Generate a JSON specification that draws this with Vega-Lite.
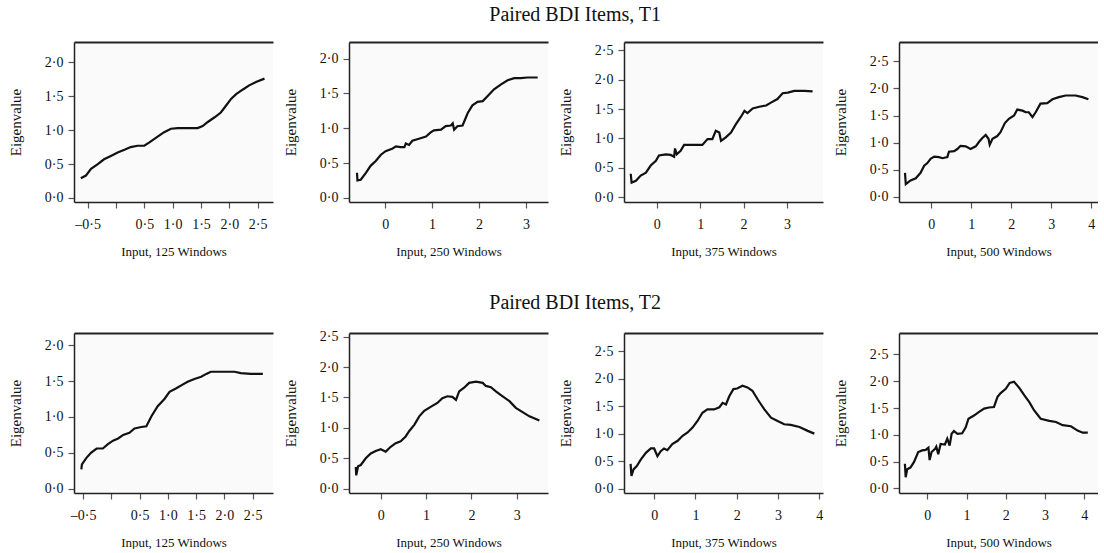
{
  "$schema": "https://vega.github.io/schema/vega-lite/v6.json",
  "background": "white",
  "padding": {"left": 8, "top": 5, "right": 0, "bottom": 0},
  "spacing": 34,
  "config": {
    "font": "Liberation Serif",
    "view": {"stroke": null, "fill": "#fafafa"},
    "axis": {"labelFont": "Liberation Serif", "titleFont": "Liberation Serif", "labelFontSize": 14, "titleFontSize": 13, "titleFontWeight": "normal", "labelColor": "#111", "titleColor": "#111", "domainColor": "#222", "domainWidth": 1.5, "tickColor": "#555", "tickSize": 6, "tickWidth": 1.2, "grid": false, "labelPadding": 5},
    "axisY": {"titlePadding": 21, "titleFontSize": 15},
    "axisX": {"labelPadding": 9, "titlePadding": 14},
    "title": {"font": "Liberation Serif", "fontSize": 20, "fontWeight": "normal", "color": "#111", "anchor": "middle", "dx": 22},
    "line": {"color": "#111", "strokeWidth": 2.2}
  },
  "datasets": {
    "a1": [{"x":-0.62,"y":0.29},{"x":-0.53,"y":0.33},{"x":-0.44,"y":0.43},{"x":-0.32,"y":0.50},{"x":-0.21,"y":0.57},{"x":-0.09,"y":0.62},{"x":0.03,"y":0.67},{"x":0.15,"y":0.71},{"x":0.26,"y":0.75},{"x":0.38,"y":0.77},{"x":0.50,"y":0.77},{"x":0.59,"y":0.82},{"x":0.71,"y":0.89},{"x":0.85,"y":0.97},{"x":0.97,"y":1.02},{"x":1.09,"y":1.03},{"x":1.26,"y":1.03},{"x":1.44,"y":1.03},{"x":1.53,"y":1.06},{"x":1.62,"y":1.12},{"x":1.74,"y":1.19},{"x":1.85,"y":1.26},{"x":1.94,"y":1.36},{"x":2.03,"y":1.46},{"x":2.12,"y":1.53},{"x":2.24,"y":1.60},{"x":2.35,"y":1.66},{"x":2.47,"y":1.71},{"x":2.62,"y":1.76}],
    "a2": [{"x":-0.60,"y":0.36},{"x":-0.59,"y":0.25},{"x":-0.52,"y":0.26},{"x":-0.41,"y":0.36},{"x":-0.31,"y":0.46},{"x":-0.20,"y":0.53},{"x":-0.09,"y":0.62},{"x":0.01,"y":0.67},{"x":0.16,"y":0.71},{"x":0.23,"y":0.74},{"x":0.33,"y":0.73},{"x":0.41,"y":0.73},{"x":0.44,"y":0.78},{"x":0.51,"y":0.76},{"x":0.58,"y":0.82},{"x":0.72,"y":0.85},{"x":0.87,"y":0.88},{"x":0.97,"y":0.94},{"x":1.04,"y":0.97},{"x":1.19,"y":0.98},{"x":1.29,"y":1.03},{"x":1.40,"y":1.04},{"x":1.44,"y":1.07},{"x":1.47,"y":0.98},{"x":1.54,"y":1.03},{"x":1.65,"y":1.04},{"x":1.76,"y":1.22},{"x":1.86,"y":1.33},{"x":1.97,"y":1.38},{"x":2.08,"y":1.39},{"x":2.18,"y":1.46},{"x":2.32,"y":1.56},{"x":2.47,"y":1.63},{"x":2.61,"y":1.69},{"x":2.75,"y":1.72},{"x":2.89,"y":1.72},{"x":3.03,"y":1.73},{"x":3.25,"y":1.73}],
    "a3": [{"x":-0.60,"y":0.40},{"x":-0.58,"y":0.25},{"x":-0.48,"y":0.28},{"x":-0.37,"y":0.37},{"x":-0.25,"y":0.42},{"x":-0.14,"y":0.54},{"x":-0.02,"y":0.62},{"x":0.05,"y":0.71},{"x":0.21,"y":0.73},{"x":0.32,"y":0.72},{"x":0.40,"y":0.69},{"x":0.42,"y":0.83},{"x":0.46,"y":0.73},{"x":0.55,"y":0.79},{"x":0.63,"y":0.89},{"x":0.78,"y":0.89},{"x":0.94,"y":0.89},{"x":1.05,"y":0.89},{"x":1.17,"y":0.99},{"x":1.28,"y":0.99},{"x":1.36,"y":1.13},{"x":1.44,"y":1.10},{"x":1.48,"y":0.96},{"x":1.59,"y":1.02},{"x":1.71,"y":1.10},{"x":1.82,"y":1.24},{"x":1.94,"y":1.37},{"x":2.02,"y":1.47},{"x":2.09,"y":1.43},{"x":2.21,"y":1.51},{"x":2.36,"y":1.54},{"x":2.52,"y":1.56},{"x":2.63,"y":1.61},{"x":2.78,"y":1.67},{"x":2.90,"y":1.77},{"x":3.02,"y":1.78},{"x":3.17,"y":1.81},{"x":3.40,"y":1.81},{"x":3.59,"y":1.80}],
    "a4": [{"x":-0.66,"y":0.44},{"x":-0.64,"y":0.23},{"x":-0.52,"y":0.30},{"x":-0.39,"y":0.34},{"x":-0.27,"y":0.44},{"x":-0.18,"y":0.57},{"x":-0.10,"y":0.62},{"x":-0.02,"y":0.70},{"x":0.07,"y":0.74},{"x":0.19,"y":0.73},{"x":0.28,"y":0.71},{"x":0.40,"y":0.73},{"x":0.44,"y":0.83},{"x":0.57,"y":0.84},{"x":0.65,"y":0.88},{"x":0.73,"y":0.94},{"x":0.86,"y":0.93},{"x":0.98,"y":0.88},{"x":1.11,"y":0.93},{"x":1.19,"y":1.01},{"x":1.27,"y":1.08},{"x":1.36,"y":1.14},{"x":1.43,"y":1.07},{"x":1.46,"y":0.96},{"x":1.53,"y":1.07},{"x":1.65,"y":1.12},{"x":1.73,"y":1.19},{"x":1.84,"y":1.36},{"x":1.94,"y":1.44},{"x":2.07,"y":1.50},{"x":2.15,"y":1.61},{"x":2.28,"y":1.59},{"x":2.36,"y":1.56},{"x":2.44,"y":1.56},{"x":2.53,"y":1.47},{"x":2.61,"y":1.56},{"x":2.73,"y":1.72},{"x":2.90,"y":1.73},{"x":3.03,"y":1.80},{"x":3.19,"y":1.84},{"x":3.36,"y":1.87},{"x":3.61,"y":1.87},{"x":3.78,"y":1.84},{"x":3.93,"y":1.80}],
    "b1": [{"x":-0.53,"y":0.27},{"x":-0.52,"y":0.34},{"x":-0.44,"y":0.43},{"x":-0.36,"y":0.50},{"x":-0.26,"y":0.56},{"x":-0.15,"y":0.56},{"x":-0.06,"y":0.62},{"x":0.03,"y":0.67},{"x":0.12,"y":0.70},{"x":0.21,"y":0.75},{"x":0.32,"y":0.78},{"x":0.41,"y":0.84},{"x":0.53,"y":0.86},{"x":0.62,"y":0.87},{"x":0.71,"y":1.01},{"x":0.82,"y":1.15},{"x":0.94,"y":1.25},{"x":1.03,"y":1.35},{"x":1.15,"y":1.40},{"x":1.26,"y":1.45},{"x":1.35,"y":1.49},{"x":1.47,"y":1.53},{"x":1.59,"y":1.56},{"x":1.68,"y":1.60},{"x":1.76,"y":1.63},{"x":1.88,"y":1.63},{"x":2.06,"y":1.63},{"x":2.18,"y":1.63},{"x":2.29,"y":1.61},{"x":2.47,"y":1.60},{"x":2.68,"y":1.60}],
    "b2": [{"x":-0.55,"y":0.36},{"x":-0.54,"y":0.22},{"x":-0.50,"y":0.37},{"x":-0.44,"y":0.39},{"x":-0.33,"y":0.50},{"x":-0.22,"y":0.58},{"x":-0.11,"y":0.62},{"x":0.00,"y":0.65},{"x":0.11,"y":0.61},{"x":0.22,"y":0.69},{"x":0.33,"y":0.75},{"x":0.44,"y":0.78},{"x":0.55,"y":0.86},{"x":0.63,"y":0.95},{"x":0.74,"y":1.05},{"x":0.85,"y":1.19},{"x":0.96,"y":1.28},{"x":1.11,"y":1.35},{"x":1.25,"y":1.41},{"x":1.36,"y":1.49},{"x":1.47,"y":1.52},{"x":1.58,"y":1.51},{"x":1.66,"y":1.46},{"x":1.73,"y":1.60},{"x":1.84,"y":1.66},{"x":1.95,"y":1.74},{"x":2.10,"y":1.76},{"x":2.25,"y":1.74},{"x":2.32,"y":1.69},{"x":2.43,"y":1.67},{"x":2.54,"y":1.60},{"x":2.69,"y":1.52},{"x":2.84,"y":1.44},{"x":2.98,"y":1.33},{"x":3.13,"y":1.26},{"x":3.28,"y":1.19},{"x":3.50,"y":1.12}],
    "b3": [{"x":-0.57,"y":0.45},{"x":-0.55,"y":0.23},{"x":-0.50,"y":0.35},{"x":-0.42,"y":0.41},{"x":-0.32,"y":0.53},{"x":-0.20,"y":0.65},{"x":-0.08,"y":0.73},{"x":0.00,"y":0.73},{"x":0.08,"y":0.59},{"x":0.16,"y":0.68},{"x":0.24,"y":0.73},{"x":0.32,"y":0.70},{"x":0.44,"y":0.81},{"x":0.57,"y":0.87},{"x":0.69,"y":0.96},{"x":0.81,"y":1.02},{"x":0.93,"y":1.11},{"x":1.05,"y":1.23},{"x":1.17,"y":1.38},{"x":1.29,"y":1.44},{"x":1.45,"y":1.44},{"x":1.58,"y":1.48},{"x":1.66,"y":1.56},{"x":1.74,"y":1.53},{"x":1.82,"y":1.68},{"x":1.92,"y":1.81},{"x":2.01,"y":1.82},{"x":2.14,"y":1.87},{"x":2.26,"y":1.84},{"x":2.38,"y":1.78},{"x":2.51,"y":1.62},{"x":2.67,"y":1.44},{"x":2.83,"y":1.29},{"x":2.99,"y":1.23},{"x":3.15,"y":1.17},{"x":3.31,"y":1.16},{"x":3.52,"y":1.12},{"x":3.72,"y":1.05},{"x":3.88,"y":1.00}],
    "b4": [{"x":-0.57,"y":0.46},{"x":-0.55,"y":0.21},{"x":-0.51,"y":0.36},{"x":-0.43,"y":0.39},{"x":-0.34,"y":0.49},{"x":-0.23,"y":0.68},{"x":-0.13,"y":0.71},{"x":-0.04,"y":0.72},{"x":0.03,"y":0.76},{"x":0.06,"y":0.53},{"x":0.11,"y":0.68},{"x":0.20,"y":0.74},{"x":0.23,"y":0.78},{"x":0.28,"y":0.64},{"x":0.34,"y":0.83},{"x":0.45,"y":0.82},{"x":0.51,"y":0.93},{"x":0.57,"y":0.80},{"x":0.62,"y":1.02},{"x":0.68,"y":1.07},{"x":0.77,"y":1.02},{"x":0.89,"y":1.03},{"x":0.98,"y":1.14},{"x":1.05,"y":1.30},{"x":1.19,"y":1.36},{"x":1.32,"y":1.43},{"x":1.45,"y":1.49},{"x":1.57,"y":1.51},{"x":1.70,"y":1.52},{"x":1.79,"y":1.71},{"x":1.87,"y":1.78},{"x":2.00,"y":1.86},{"x":2.10,"y":1.97},{"x":2.21,"y":1.99},{"x":2.34,"y":1.88},{"x":2.47,"y":1.74},{"x":2.60,"y":1.61},{"x":2.72,"y":1.46},{"x":2.89,"y":1.30},{"x":3.11,"y":1.26},{"x":3.28,"y":1.24},{"x":3.45,"y":1.18},{"x":3.66,"y":1.16},{"x":3.83,"y":1.08},{"x":3.96,"y":1.04},{"x":4.09,"y":1.04}]
  },
  "vconcat": [
    {
      "title": {"text": "Paired BDI Items, T1", "offset": 17},
      "bounds": "flush",
      "spacing": 76,
      "hconcat": [
        {"width": 199, "height": 160, "data": {"name": "a1"},
         "encoding": {
           "x": {"field": "x", "type": "quantitative", "scale": {"domain": [-0.74, 2.77], "nice": false, "zero": false}, "axis": {"title": "Input, 125 Windows", "values": [-0.5, 0, 0.5, 1, 1.5, 2, 2.5], "labelExpr": "datum.value == 0 ? '' : replace(replace(format(datum.value, '.1f'), '.', '·'), '−', '–')"}},
           "y": {"field": "y", "type": "quantitative", "scale": {"domain": [-0.06, 2.3], "nice": false, "zero": false}, "axis": {"title": "Eigenvalue", "values": [0, 0.5, 1, 1.5, 2], "labelExpr": "replace(format(datum.value, '.1f'), '.', '·')"}}
         },
         "layer": [
           {"mark": {"type": "line"}},
           {"mark": {"type": "line", "opacity": 0}, "encoding": {"x": {"field": "x", "type": "quantitative", "axis": {"orient": "top", "labels": false, "ticks": false, "title": null, "domainWidth": 2}}}}
         ],
         "resolve": {"axis": {"x": "independent"}}
        },
        {"width": 199, "height": 160, "data": {"name": "a2"},
         "encoding": {
           "x": {"field": "x", "type": "quantitative", "scale": {"domain": [-0.77, 3.47], "nice": false, "zero": false}, "axis": {"title": "Input, 250 Windows", "values": [0, 1, 2, 3], "format": "d"}},
           "y": {"field": "y", "type": "quantitative", "scale": {"domain": [-0.06, 2.24], "nice": false, "zero": false}, "axis": {"title": "Eigenvalue", "values": [0, 0.5, 1, 1.5, 2], "labelExpr": "replace(format(datum.value, '.1f'), '.', '·')"}}
         },
         "layer": [
           {"mark": {"type": "line"}},
           {"mark": {"type": "line", "opacity": 0}, "encoding": {"x": {"field": "x", "type": "quantitative", "axis": {"orient": "top", "labels": false, "ticks": false, "title": null, "domainWidth": 2}}}}
         ],
         "resolve": {"axis": {"x": "independent"}}
        },
        {"width": 199, "height": 160, "data": {"name": "a3"},
         "encoding": {
           "x": {"field": "x", "type": "quantitative", "scale": {"domain": [-0.755, 3.83], "nice": false, "zero": false}, "axis": {"title": "Input, 375 Windows", "values": [0, 1, 2, 3], "format": "d"}},
           "y": {"field": "y", "type": "quantitative", "scale": {"domain": [-0.08, 2.64], "nice": false, "zero": false}, "axis": {"title": "Eigenvalue", "values": [0, 0.5, 1, 1.5, 2, 2.5], "labelExpr": "replace(format(datum.value, '.1f'), '.', '·')"}}
         },
         "layer": [
           {"mark": {"type": "line"}},
           {"mark": {"type": "line", "opacity": 0}, "encoding": {"x": {"field": "x", "type": "quantitative", "axis": {"orient": "top", "labels": false, "ticks": false, "title": null, "domainWidth": 2}}}}
         ],
         "resolve": {"axis": {"x": "independent"}}
        },
        {"width": 199, "height": 160, "data": {"name": "a4"},
         "encoding": {
           "x": {"field": "x", "type": "quantitative", "scale": {"domain": [-0.81, 4.17], "nice": false, "zero": false}, "axis": {"title": "Input, 500 Windows", "values": [0, 1, 2, 3, 4], "format": "d"}},
           "y": {"field": "y", "type": "quantitative", "scale": {"domain": [-0.1, 2.86], "nice": false, "zero": false}, "axis": {"title": "Eigenvalue", "values": [0, 0.5, 1, 1.5, 2, 2.5], "labelExpr": "replace(format(datum.value, '.1f'), '.', '·')"}}
         },
         "layer": [
           {"mark": {"type": "line"}},
           {"mark": {"type": "line", "opacity": 0}, "encoding": {"x": {"field": "x", "type": "quantitative", "axis": {"orient": "top", "labels": false, "ticks": false, "title": null, "domainWidth": 2}}}}
         ],
         "resolve": {"axis": {"x": "independent"}}
        }
      ]
    },
    {
      "title": {"text": "Paired BDI Items, T2", "offset": 17},
      "bounds": "flush",
      "spacing": 76,
      "hconcat": [
        {"width": 199, "height": 160, "data": {"name": "b1"},
         "encoding": {
           "x": {"field": "x", "type": "quantitative", "scale": {"domain": [-0.66, 2.86], "nice": false, "zero": false}, "axis": {"title": "Input, 125 Windows", "values": [-0.5, 0, 0.5, 1, 1.5, 2, 2.5], "labelExpr": "datum.value == 0 ? '' : replace(replace(format(datum.value, '.1f'), '.', '·'), '−', '–')"}},
           "y": {"field": "y", "type": "quantitative", "scale": {"domain": [-0.06, 2.17], "nice": false, "zero": false}, "axis": {"title": "Eigenvalue", "values": [0, 0.5, 1, 1.5, 2], "labelExpr": "replace(format(datum.value, '.1f'), '.', '·')"}}
         },
         "layer": [
           {"mark": {"type": "line"}},
           {"mark": {"type": "line", "opacity": 0}, "encoding": {"x": {"field": "x", "type": "quantitative", "axis": {"orient": "top", "labels": false, "ticks": false, "title": null, "domainWidth": 2}}}}
         ],
         "resolve": {"axis": {"x": "independent"}}
        },
        {"width": 199, "height": 160, "data": {"name": "b2"},
         "encoding": {
           "x": {"field": "x", "type": "quantitative", "scale": {"domain": [-0.7, 3.69], "nice": false, "zero": false}, "axis": {"title": "Input, 250 Windows", "values": [0, 1, 2, 3], "format": "d"}},
           "y": {"field": "y", "type": "quantitative", "scale": {"domain": [-0.07, 2.56], "nice": false, "zero": false}, "axis": {"title": "Eigenvalue", "values": [0, 0.5, 1, 1.5, 2, 2.5], "labelExpr": "replace(format(datum.value, '.1f'), '.', '·')"}}
         },
         "layer": [
           {"mark": {"type": "line"}},
           {"mark": {"type": "line", "opacity": 0}, "encoding": {"x": {"field": "x", "type": "quantitative", "axis": {"orient": "top", "labels": false, "ticks": false, "title": null, "domainWidth": 2}}}}
         ],
         "resolve": {"axis": {"x": "independent"}}
        },
        {"width": 199, "height": 160, "data": {"name": "b3"},
         "encoding": {
           "x": {"field": "x", "type": "quantitative", "scale": {"domain": [-0.73, 4.09], "nice": false, "zero": false}, "axis": {"title": "Input, 375 Windows", "values": [0, 1, 2, 3, 4], "format": "d"}},
           "y": {"field": "y", "type": "quantitative", "scale": {"domain": [-0.08, 2.83], "nice": false, "zero": false}, "axis": {"title": "Eigenvalue", "values": [0, 0.5, 1, 1.5, 2, 2.5], "labelExpr": "replace(format(datum.value, '.1f'), '.', '·')"}}
         },
         "layer": [
           {"mark": {"type": "line"}},
           {"mark": {"type": "line", "opacity": 0}, "encoding": {"x": {"field": "x", "type": "quantitative", "axis": {"orient": "top", "labels": false, "ticks": false, "title": null, "domainWidth": 2}}}}
         ],
         "resolve": {"axis": {"x": "independent"}}
        },
        {"width": 199, "height": 160, "data": {"name": "b4"},
         "encoding": {
           "x": {"field": "x", "type": "quantitative", "scale": {"domain": [-0.72, 4.35], "nice": false, "zero": false}, "axis": {"title": "Input, 500 Windows", "values": [0, 1, 2, 3, 4], "format": "d"}},
           "y": {"field": "y", "type": "quantitative", "scale": {"domain": [-0.085, 2.9], "nice": false, "zero": false}, "axis": {"title": "Eigenvalue", "values": [0, 0.5, 1, 1.5, 2, 2.5], "labelExpr": "replace(format(datum.value, '.1f'), '.', '·')"}}
         },
         "layer": [
           {"mark": {"type": "line"}},
           {"mark": {"type": "line", "opacity": 0}, "encoding": {"x": {"field": "x", "type": "quantitative", "axis": {"orient": "top", "labels": false, "ticks": false, "title": null, "domainWidth": 2}}}}
         ],
         "resolve": {"axis": {"x": "independent"}}
        }
      ]
    }
  ]
}
